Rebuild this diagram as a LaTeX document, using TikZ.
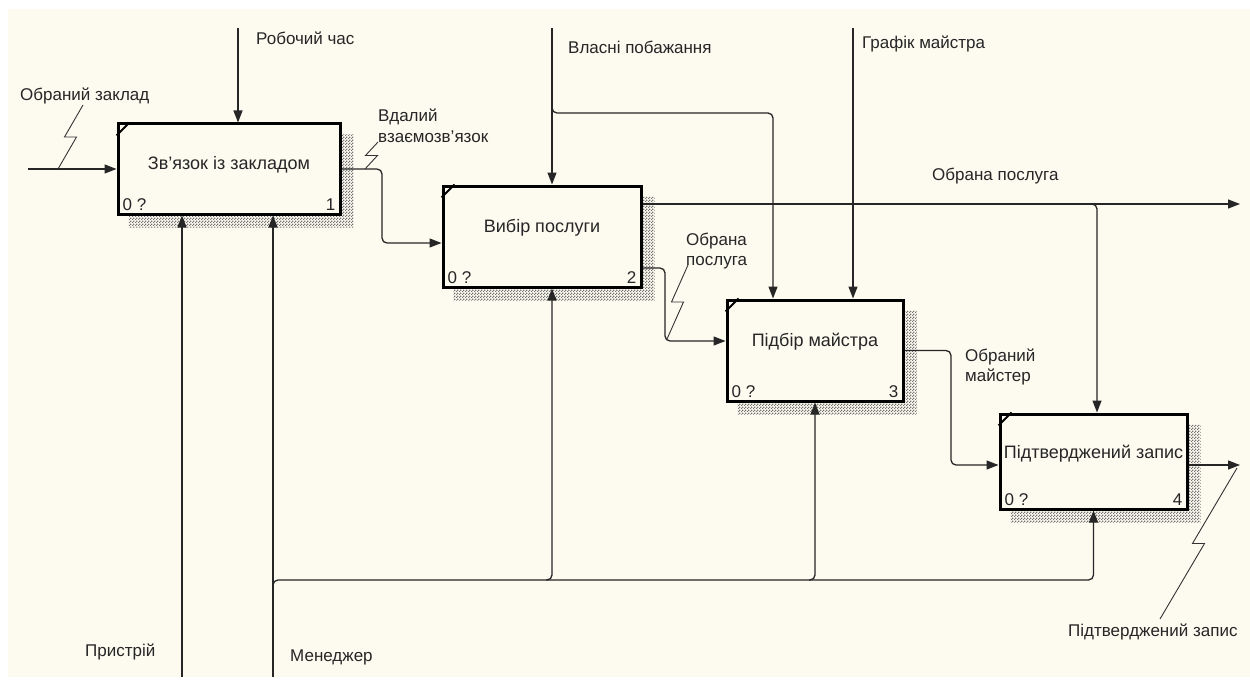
\documentclass[tikz,border=0pt]{standalone}
\usepackage{fontspec}
\setmainfont{Liberation Sans}
\usetikzlibrary{calc,arrows.meta,patterns}
\definecolor{paper}{RGB}{253,250,240}
\definecolor{ink}{RGB}{38,38,38}
\pgfdeclarelayer{bg}
\pgfsetlayers{bg,main}

% fine checkered texture for the drop shadows
\pgfdeclarepatternformonly{checker}{\pgfqpoint{0pt}{0pt}}{\pgfqpoint{3pt}{3pt}}{\pgfqpoint{3pt}{3pt}}{%
  \pgfpathrectangle{\pgfqpoint{0pt}{0pt}}{\pgfqpoint{1.5pt}{1.5pt}}%
  \pgfpathrectangle{\pgfqpoint{1.5pt}{1.5pt}}{\pgfqpoint{1.5pt}{1.5pt}}%
  \pgfusepath{fill}}

% hatched drop shadow on the right and bottom of an activity box
\newcommand{\boxshadow}[1]{%
  \begin{pgfonlayer}{bg}
  \fill[pattern=checker, pattern color=black!55]
    ($(#1.north east)+(0,12)$) -- ($(#1.north east)+(12,12)$) --
    ($(#1.south east)+(12,12)$) -- ($(#1.south west)+(12,12)$) --
    ($(#1.south west)+(12,0)$) -- (#1.south east) -- cycle;
  \end{pgfonlayer}}
% small diagonal mark in the top-left corner of a box
\newcommand{\cornermark}[1]{%
  \draw[line width=2pt] ($(#1.north west)+(0,13)$) -- ($(#1.north west)+(13,0)$);}
% IDEF0 squiggle joining an arrow to its label
\newcommand{\zigzag}[2]{%
  \draw[squig] (#1) -- ($(#1)!0.5!(#2)+(6,0)$) -- ($(#1)!0.5!(#2)+(-6,0)$) -- (#2);}

\begin{document}
\begin{tikzpicture}[x=1pt,y=-1pt,
  font=\fontsize{17}{20.5}\selectfont, text=ink,
  fn/.style={draw=black, line width=3pt, fill=paper, inner sep=0pt},
  title/.style={inner sep=0pt, font=\fontsize{18}{21}\selectfont},
  lbl/.style={inner sep=0pt, anchor=west, align=left},
  corner/.style={inner sep=0pt},
  flow/.style={draw=black!85, line width=1.3pt, -{Triangle[length=12pt,width=9pt]}},
  rc/.style={rounded corners=5pt},
  squig/.style={draw=black!80, line width=0.9pt},
]
\useasboundingbox (0,0) rectangle (1250,682);
\begin{pgfonlayer}{bg}
  \fill[white] (0,0) rectangle (1250,682);
  \fill[paper] (8,9) rectangle (1250,677);
\end{pgfonlayer}

% activity boxes
\node[fn, minimum width=222pt, minimum height=90pt]  (b1) at (229,169) {};
\node[fn, minimum width=198pt, minimum height=101pt] (b2) at (542,236.5) {};
\node[fn, minimum width=176pt, minimum height=101pt] (b3) at (815,350.5) {};
\node[fn, minimum width=187pt, minimum height=95pt]  (b4) at (1093.5,461.5) {};
\foreach \b in {b1,b2,b3,b4}{\boxshadow{\b}\cornermark{\b}}

\node[title] (t1) at ([yshift=4pt]b1.center) {Зв'язок із закладом};
\node[title] (t2) at ([yshift=9pt]b2.center) {Вибір послуги};
\node[title] (t3) at ([yshift=9pt]b3.center) {Підбір майстра};
\node[title] (t4) at ([yshift=8pt]b4.center) {Підтверджений запис};

\node[corner, anchor=base west] (b1l) at ($(b1.south west)+(6,-5)$) {0 ?};
\node[corner, anchor=base east] (b1n) at ($(b1.south east)+(-6,-5)$) {1};
\node[corner, anchor=base west] (b2l) at ($(b2.south west)+(6,-5)$) {0 ?};
\node[corner, anchor=base east] (b2n) at ($(b2.south east)+(-6,-5)$) {2};
\node[corner, anchor=base west] (b3l) at ($(b3.south west)+(6,-5)$) {0 ?};
\node[corner, anchor=base east] (b3n) at ($(b3.south east)+(-6,-5)$) {3};
\node[corner, anchor=base west] (b4l) at ($(b4.south west)+(6,-5)$) {0 ?};
\node[corner, anchor=base east] (b4n) at ($(b4.south east)+(-6,-5)$) {4};

% free ends of boundary arrows and bends
\coordinate (srcZaklad)   at (28,169);
\coordinate (srcChas)     at (238,28);
\coordinate (srcPobazh)   at (552,28);
\coordinate (srcGrafik)   at (853,28);
\coordinate (srcPrystrii) at (182,677);
\coordinate (srcManager)  at (273,677);
\coordinate (outPosluga)  at (1240,204);
\coordinate (outZapys)    at (1240,465);
\coordinate (j12)   at (382,243);
\coordinate (j23)   at (665,341);
\coordinate (j34)   at (951,465);
\coordinate (busV)  at (552,113);
\coordinate (busV3) at (773,113);
\coordinate (busP)  at (1097,204);
\coordinate (busM)  at (273,580);

% inputs and outputs
\draw[flow] (srcZaklad) -- (srcZaklad -| b1.west);
\draw[flow,rc] (b1.east) -| (j12) -- (j12 -| b2.west);
\draw[flow,rc] ([yshift=-31.5pt]b2.east) -| (j23) -- (j23 -| b3.west);
\draw[flow,rc] (b3.east) -| (j34) -- (j34 -| b4.west);
\draw[flow] (b4.east |- outZapys) -- (outZapys);
\draw[flow] (b2.east |- outPosluga) -- (outPosluga);
\draw[flow,rc] ([xshift=-6pt]busP) -- (busP) -- (busP |- b4.north);

% controls
\draw[flow] (srcChas) -- (srcChas |- b1.north);
\draw[flow] (srcPobazh) -- (srcPobazh |- b2.north);
\draw[flow,rc] ([yshift=6pt]busV) -- (busV) -- (busV3) -- (busV3 |- b3.north);
\draw[flow] (srcGrafik) -- (srcGrafik |- b3.north);

% mechanisms
\draw[flow] (srcPrystrii) -- (srcPrystrii |- b1.south);
\draw[flow] (srcManager) -- (srcManager |- b1.south);
\draw[flow,rc] ([yshift=-6pt]busM) -- (busM) -| (b4.south);
\draw[flow,rc] ([xshift=-6pt]busM -| srcPobazh) -- (busM -| srcPobazh) -- (srcPobazh |- b2.south);
\draw[flow,rc] ([xshift=-6pt]busM -| b3.south) -- (busM -| b3.south) -- (b3.south);

% arrow labels
\node[lbl] (lChas)    at (256,38)  {Робочий час};
\node[lbl] (lZaklad)  at (20,96)   {Обраний заклад};
\node[lbl] (lPobazh)  at (568,47)  {Власні побажання};
\node[lbl] (lGrafik)  at (862,44)  {Графік майстра};
\node[lbl] (lVdalyi)  at (378,126) {Вдалий\\взаємозв'язок};
\node[lbl] (lPosluga) at (932,176) {Обрана послуга};
\node[lbl] (lPosl2)   at (686,251) {Обрана\\послуга};
\node[lbl] (lMaister) at (965,367) {Обраний\\майстер};
\node[lbl] (lPrystr)  at (85,652)  {Пристрій};
\node[lbl] (lManager) at (290,657) {Менеджер};
\node[lbl] (lZapys)   at (1068,632) {Підтверджений запис};

% squiggles
\coordinate (q1a) at (58,169);   \coordinate (q1b) at (83,105);
\coordinate (q2a) at (365,169);  \coordinate (q2b) at (378,142);
\coordinate (q3a) at (667,339);  \coordinate (q3b) at (688,265);
\coordinate (q4a) at (1160,619); \coordinate (q4b) at (1237,468);
\zigzag{q1a}{q1b}
\zigzag{q2a}{q2b}
\zigzag{q3a}{q3b}
\zigzag{q4a}{q4b}
\end{tikzpicture}
\end{document}
